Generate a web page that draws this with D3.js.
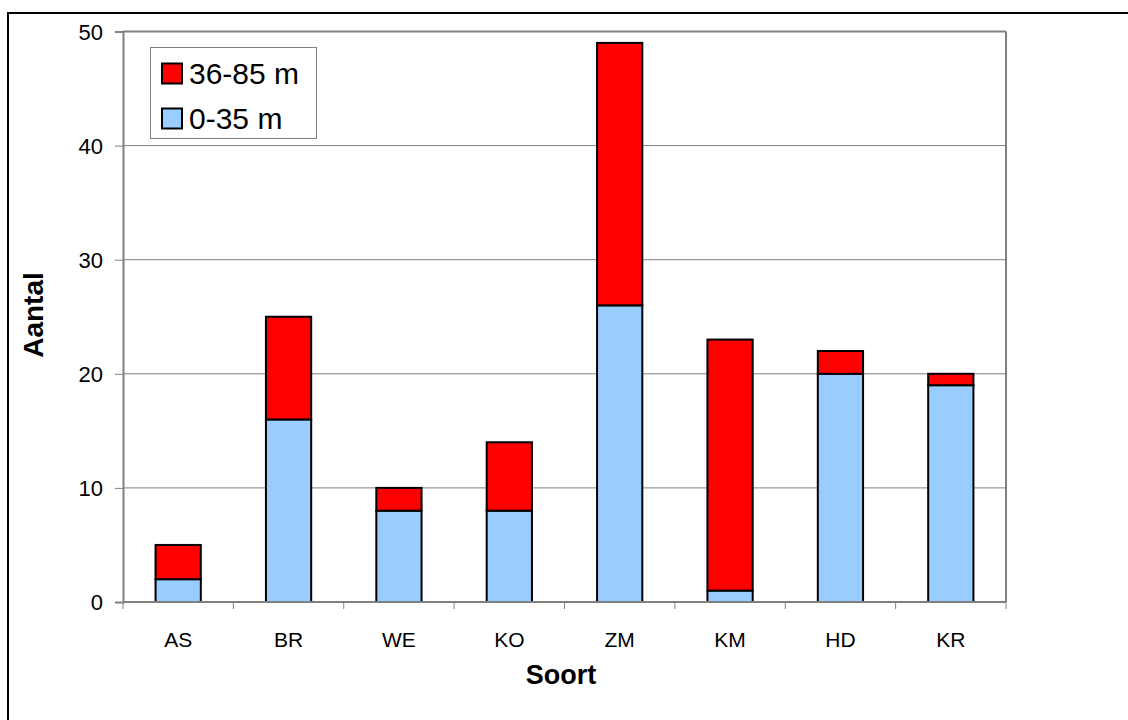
<!DOCTYPE html>
<html>
<head>
<meta charset="utf-8">
<script src="https://cdn.jsdelivr.net/npm/d3@7"></script>
<style>
  body { margin: 0; background: #fff; }
  svg { display: block; font-family: "Liberation Sans", Arial, sans-serif; }
</style>
</head>
<body>
<svg id="chart" width="1128" height="720"></svg>
<script>
// Tree counts per species, split by distance class
const categories = ["AS", "BR", "WE", "KO", "ZM", "KM", "HD", "KR"];
const near = [2, 16, 8, 8, 26, 1, 20, 19];      // 0-35 m
const far = [3, 9, 2, 6, 23, 22, 2, 1];         // 36-85 m
const seriesNames = ["0-35 m", "36-85 m"];
const seriesColors = ["#99ccff", "#ff0000"];
const yTicks = [0, 10, 20, 30, 40, 50];

const svg = d3.select("#chart");
const W = 1128, H = 720;
const FONT = "Liberation Sans, Arial, sans-serif";

// outer frame (open on right and bottom)
svg.append("rect").attr("x", 8).attr("y", 13).attr("width", W + 20).attr("height", H + 20)
  .attr("fill", "#fff").attr("stroke", "#000").attr("stroke-width", 2);

const plot = { left: 123, right: 1006, top: 31.5, bottom: 602 };

const x = d3.scaleBand().domain(categories).range([plot.left, plot.right]).paddingInner(0.59).paddingOuter(0.295);
const y = d3.scaleLinear().domain([0, 50]).range([plot.bottom, plot.top]);

// gridlines
svg.append("g").selectAll("line").data(yTicks.filter(d => d > 0)).join("line")
  .attr("x1", plot.left).attr("x2", plot.right)
  .attr("y1", d => y(d)).attr("y2", d => y(d))
  .attr("stroke", "#808080").attr("stroke-width", 1);

// plot area border (top and right)
svg.append("line").attr("x1", plot.right).attr("x2", plot.right)
  .attr("y1", plot.top).attr("y2", plot.bottom)
  .attr("stroke", "#808080").attr("stroke-width", 2);
svg.append("line").attr("x1", plot.left).attr("x2", plot.right)
  .attr("y1", plot.top).attr("y2", plot.top)
  .attr("stroke", "#808080").attr("stroke-width", 2);

// stacked bars
const rows = categories.map((c, i) => ({ cat: c, "0-35 m": near[i], "36-85 m": far[i] }));
const stack = d3.stack().keys(seriesNames)(rows);
svg.append("g").selectAll("g").data(stack).join("g")
  .attr("fill", (d, i) => seriesColors[i])
  .selectAll("rect").data(d => d).join("rect")
  .attr("x", d => x(d.data.cat))
  .attr("width", x.bandwidth())
  .attr("y", d => y(d[1]))
  .attr("height", d => y(d[0]) - y(d[1]))
  .attr("stroke", "#000").attr("stroke-width", 2);

// y axis
const yAxis = svg.append("g").attr("transform", `translate(${plot.left},0)`)
  .call(d3.axisLeft(y).tickValues(yTicks).tickSize(8).tickPadding(12));
yAxis.attr("font-size", null).attr("font-family", null);
yAxis.select(".domain").attr("stroke", "#808080").attr("stroke-width", 2);
yAxis.selectAll(".tick line").attr("stroke", "#808080");
yAxis.selectAll("text").attr("font-size", 22).attr("fill", "#000")
  .attr("font-family", FONT).attr("dy", "0.36em");

// x axis with ticks between categories
const xAxisG = svg.append("g").attr("transform", `translate(0,${plot.bottom})`);
xAxisG.append("line").attr("x1", plot.left).attr("x2", plot.right)
  .attr("stroke", "#808080").attr("stroke-width", 2);
const boundaries = d3.range(categories.length + 1).map(i => plot.left + i * (plot.right - plot.left) / categories.length);
xAxisG.selectAll("line.tk").data(boundaries).join("line").attr("class", "tk")
  .attr("x1", d => d).attr("x2", d => d).attr("y1", 0).attr("y2", 7)
  .attr("stroke", "#808080").attr("stroke-width", 1);
xAxisG.selectAll("text").data(categories).join("text")
  .attr("x", d => x(d) + x.bandwidth() / 2).attr("y", 45)
  .attr("text-anchor", "middle").attr("font-size", 21).text(d => d);

// axis titles
svg.append("text").attr("x", 561).attr("y", 684).attr("text-anchor", "middle")
  .attr("font-size", 27).attr("font-weight", "bold").text("Soort");
svg.append("text").attr("transform", "translate(43,315) rotate(-90)")
  .attr("text-anchor", "middle").attr("font-size", 28).attr("font-weight", "bold").text("Aantal");

// legend
const legend = svg.append("g");
legend.append("rect").attr("x", 150.5).attr("y", 47.5).attr("width", 166).attr("height", 91)
  .attr("fill", "#fff").attr("stroke", "#808080").attr("stroke-width", 1);
const legendItems = [
  { name: seriesNames[1], color: seriesColors[1] },
  { name: seriesNames[0], color: seriesColors[0] }
];
legendItems.forEach((d, i) => {
  const cy = 73.5 + i * 45;
  legend.append("rect").attr("x", 162).attr("y", cy - 10).attr("width", 20).attr("height", 20)
    .attr("fill", d.color).attr("stroke", "#000").attr("stroke-width", 2);
  legend.append("text").attr("x", 189).attr("y", cy + 10).attr("font-size", 30).text(d.name);
});
</script>
</body>
</html>
